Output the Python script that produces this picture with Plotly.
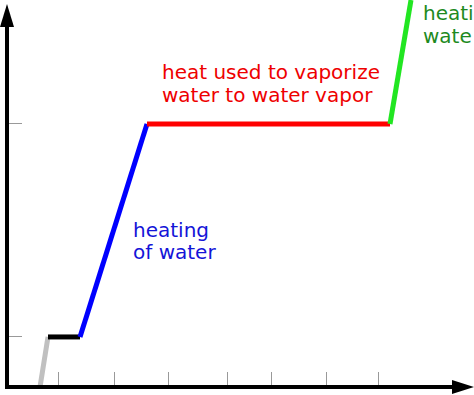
import plotly.graph_objects as go

# Heating curve data (heat in arbitrary units, temperature in °C)
seg_names = ["ice", "melting", "water", "vaporize", "steam"]
seg_heat = [[3.3, 4.1], [4.1, 7.3], [7.3, 14.0], [14.0, 38.3], [38.3, 40.4]]
seg_temp = [[-23.5, 0], [0, 0], [0, 100], [100, 100], [100, 158.2]]
seg_colors = ["#c0c0c0", "#000000", "#0000ff", "#ff0000", "#22e622"]

x_tickvals = [5.1, 10.7, 16.1, 22.0, 26.4, 31.9, 37.1]
y_tickvals = [0, 100]

W, H = 474, 395
ML, MB = 7, 8
X_RANGE = [0, 46.7]
Y_RANGE = [-23.5, 158.2]

def xp(px):
    return (px - ML) / (W - ML)

def yp(py):
    return (H - MB - py) / (H - MB)

fig = go.Figure()
for name, hx, ty, c in zip(seg_names, seg_heat, seg_temp, seg_colors):
    fig.add_trace(go.Scatter(x=hx, y=ty, mode="lines", name=name,
                             line=dict(color=c, width=5), showlegend=False,
                             hoverinfo="skip"))

shapes = []
# axis lines
shapes.append(dict(type="line", xref="paper", yref="paper",
                   x0=xp(7), x1=xp(7), y0=yp(389), y1=yp(20),
                   line=dict(color="black", width=4), layer="above"))
shapes.append(dict(type="line", xref="paper", yref="paper",
                   x0=xp(5), x1=xp(460), y0=yp(387), y1=yp(387),
                   line=dict(color="black", width=4), layer="above"))
# arrowheads
shapes.append(dict(type="path", xref="paper", yref="paper",
                   path=f"M {xp(7)} {yp(4)} L {xp(0)} {yp(27)} L {xp(14)} {yp(27)} Z",
                   fillcolor="black", line=dict(color="black", width=0), layer="above"))
shapes.append(dict(type="path", xref="paper", yref="paper",
                   path=f"M {xp(474)} {yp(387)} L {xp(452)} {yp(380)} L {xp(452)} {yp(394)} Z",
                   fillcolor="black", line=dict(color="black", width=0), layer="above"))

font = "DejaVu Sans"
def label(text, px, py, color, yanchor="middle"):
    return dict(text=text, xref="paper", yref="paper", x=xp(px), y=yp(py),
                xanchor="left", yanchor=yanchor, showarrow=False, borderpad=0,
                font=dict(family=font, size=20, color=color))

annotations = [
    label("heat used to vaporize", 161, 72, "#ee0000"),
    label("water to water vapor", 161, 95, "#ee0000"),
    label("heating", 132, 230, "#1414d8"),
    label("of water", 132, 252, "#1414d8"),
    label("heati", 422, 0, "#1e8a1e", "top"),
    label("wate", 422, 36, "#1e8a1e"),
]

fig.update_layout(
    width=W, height=H,
    margin=dict(l=ML, r=0, t=0, b=MB),
    paper_bgcolor="white", plot_bgcolor="white",
    shapes=shapes, annotations=annotations,
    xaxis=dict(range=X_RANGE, showgrid=False, zeroline=False, showline=False,
               tickvals=x_tickvals, ticks="inside", ticklen=15, tickwidth=1,
               tickcolor="#999999", showticklabels=False, fixedrange=True),
    yaxis=dict(range=Y_RANGE, showgrid=False, zeroline=False, showline=False,
               tickvals=y_tickvals, ticks="inside", ticklen=15, tickwidth=1,
               tickcolor="#999999", showticklabels=False, fixedrange=True),
)

fig.write_html("out.html")
